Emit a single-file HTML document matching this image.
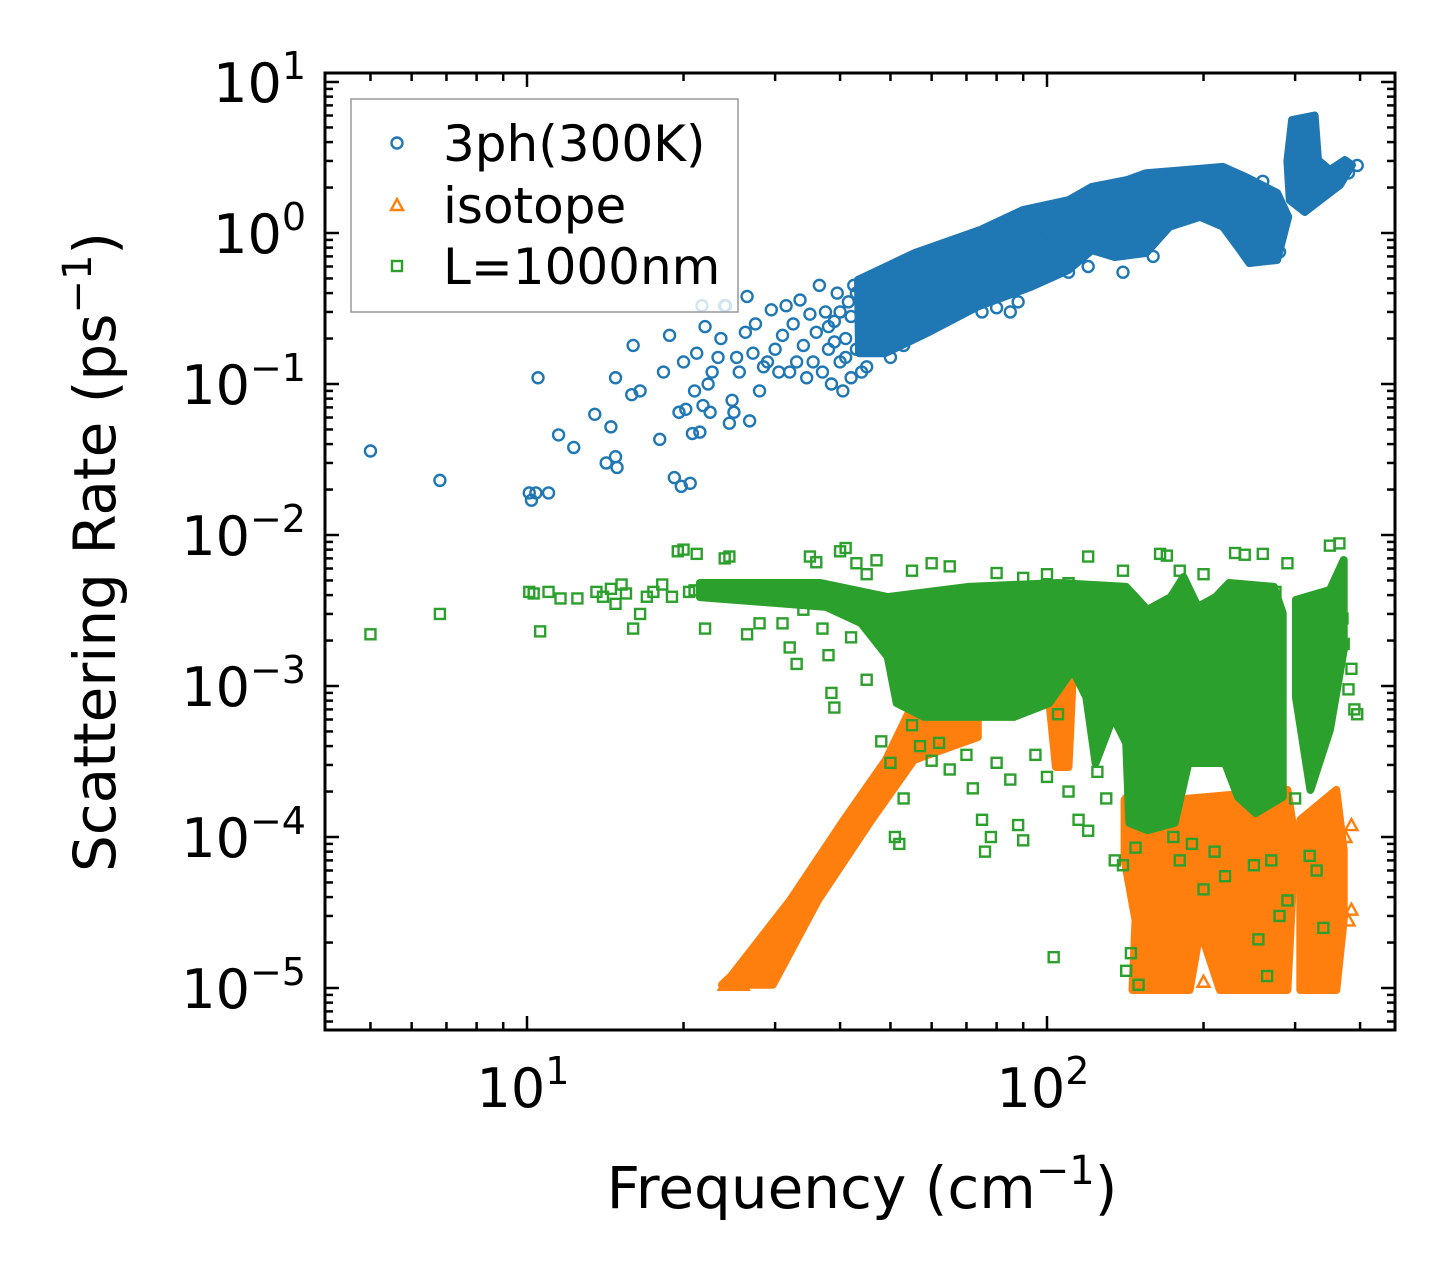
<!DOCTYPE html>
<html><head><meta charset="utf-8"><style>
body{margin:0;background:#fff}
svg{display:block;font-family:"DejaVu Sans","Liberation Sans",sans-serif}
</style></head><body>
<svg id="chart" width="1455" height="1280" viewBox="0 0 1455 1280" xmlns="http://www.w3.org/2000/svg">
<rect width="1455" height="1280" fill="#fff"/>
<g id="marks"></g>
<g id="axes"></g>
<g id="legend"></g>
</svg>
<script>
const xTicks = [10, 100];
const xTickExp = ["1", "2"];
const yTicks = [10, 1, 0.1, 0.01, 0.001, 0.0001, 0.00001];
const yTickExp = ["1", "0", "\u22121", "\u22122", "\u22123", "\u22124", "\u22125"];
const seriesNames = ["3ph(300K)", "isotope", "L=1000nm"];

const blueBandF = [43.3,55.7,74.6,89.9,110,122,142.5,155,184,218,241,277,291,277,245,233,218,197,172,155,135,122,110,93,73.3,58.8,48.8,43.5];
const blueBandR = [0.489,0.737,1.05,1.42,1.65,2.02,2.24,2.49,2.61,2.74,2.35,1.84,1.28,0.663,0.633,0.807,1.10,1.28,1.10,0.737,0.693,0.771,0.569,0.439,0.324,0.218,0.160,0.16];
const blueSpikeF = [296,327,332,350,374,386,366,335,313,293,290];
const blueSpikeR = [5.6,6.0,3.04,2.61,3.04,2.82,2.08,1.65,1.38,1.65,3.0];
const blueF = [5.0,6.8,10.1,10.2,10.4,10.5,11.0,11.5,12.3,13.5,14.2,14.5,14.8,14.8,14.9,15.9,16.0,16.5,18.0,18.3,18.8,19.2,19.6,19.8,20.0,20.2,20.6,20.8,21.0,21.2,21.5,21.8,22.0,22.3,22.5,22.7,23.3,23.6,24.0,24.5,24.8,25.0,25.3,25.6,26.3,26.5,26.8,27.2,27.5,28,28.5,29,29.5,30,30.5,31,31.5,32,32.5,33,33.5,34,34.5,35,35.5,36,36.5,37,37.5,38,38.5,39,39.5,40,40.5,41,41.5,42,42.5,43,44,45,46,47,48,50,52,53,55,57,60,63,68,72,75,80,85,88,92,95,100,110,120,130,140,160,175,200,210,260,270,280,395,380,21.7,24.1,41,42,43,44,45,40,39,38];
const blueR = [0.036,0.023,0.019,0.017,0.019,0.11,0.019,0.046,0.038,0.063,0.030,0.052,0.11,0.033,0.028,0.085,0.18,0.09,0.043,0.12,0.21,0.024,0.065,0.021,0.14,0.068,0.022,0.047,0.09,0.16,0.048,0.072,0.24,0.10,0.065,0.12,0.15,0.20,0.33,0.055,0.078,0.065,0.15,0.12,0.22,0.38,0.057,0.16,0.25,0.09,0.13,0.14,0.31,0.17,0.12,0.21,0.33,0.12,0.25,0.14,0.36,0.18,0.11,0.29,0.14,0.22,0.45,0.12,0.3,0.17,0.1,0.26,0.4,0.14,0.09,0.2,0.35,0.11,0.45,0.17,0.25,0.13,0.5,0.2,0.35,0.15,0.55,0.18,0.3,0.22,0.7,0.28,0.35,0.5,0.3,0.32,0.3,0.35,0.55,1.2,1.0,0.55,0.6,0.85,0.55,0.7,1.3,1.5,2.1,2.2,0.7,0.75,2.8,2.5,0.33,0.33,0.15,0.28,0.4,0.12,0.22,0.3,0.19,0.24];

const orangeBandF = [23.7,29.7,36.3,46.0,55.5,73.6,73.6,55.7,49.0,40.7,32.1,24.7];
const orangeBandR = [1.05e-5,1.05e-5,3.83e-5,1.30e-4,3.24e-4,4.59e-4,9.41e-4,8.07e-4,3.24e-4,1.30e-4,3.83e-5,1.2e-5];
const orangeMassF = [141,151,176,290,300,290,215,197,188,146,148,141];
const orangeMassR = [1.76e-4,2.38e-4,1.76e-4,2.05e-4,9.55e-5,9.7e-6,9.7e-6,2.42e-5,9.7e-6,9.7e-6,2.82e-5,7.05e-5];
const orangeColF = [307,360,372,372,360,307];
const orangeColR = [1.30e-4,2.05e-4,8.20e-5,2.82e-5,9.7e-6,9.7e-6];
const orangeStubF = [101,108,112,110,104];
const orangeStubR = [8.07e-4,1.28e-3,1.10e-3,2.91e-4,2.91e-4];
const orangeF = [24,25,26,27.5,28,30,380,385,375,385,55,60,65,150,200,250,330,350];
const orangeR = [1.05e-5,1.05e-5,1.05e-5,1.4e-5,1.5e-5,2.5e-5,2.8e-5,3.3e-5,1.0e-4,1.2e-4,7e-4,9e-4,6e-4,3e-4,1.1e-5,1.1e-5,1.05e-5,1.05e-5];

const greenBandF = [21.5,36.7,49.4,70.8,105,142,156,173,183,195,211,224,273,284,284,252,233,220,203,187,176,156,144,142,134,124,119,112,101,86.4,70.8,58.0,51.4,49.4,43.9,37.6,21.5];
const greenBandR = [0.00481,0.00481,0.00388,0.00453,0.00481,0.00453,0.00319,0.00388,0.00527,0.00334,0.00388,0.00481,0.00453,0.00304,0.000184,0.000144,0.000184,0.000309,0.000309,0.000309,0.000124,0.000111,0.000124,0.000420,0.000624,0.000309,0.000845,0.00128,0.000771,0.000624,0.000624,0.000624,0.000771,0.00156,0.00261,0.00334,0.00388];
const greenSpikeF = [301,350,372,372,350,321,301];
const greenSpikeR = [0.00371,0.00432,0.00683,0.00173,0.000512,0.000205,0.000845];
const greenF = [5.0,6.8,10.1,10.3,10.6,11,11.6,12.5,13.6,14,14.5,14.8,15.2,15.5,16,16.5,17,17.5,18.2,19,19.5,20,20.5,21,21.2,22,23,24,24.5,25,26,26.5,27.5,28,29,30,31,32,33,34,35,36,37,38,38.5,39,40,41,42,43,45,47,48,50,51,52,53,55,57,60,62,65,70,72,75,76,78,80,85,88,90,95,100,103,105,110,115,120,125,130,135,140,142,145,148,150,160,165,170,175,180,190,200,210,220,230,240,250,255,260,265,270,280,290,300,320,330,340,350,365,370,380,385,390,395,360,372,120,110,90,80,65,55,60,100,140,180,200,275,290,45];
const greenR = [0.0022,0.003,0.0042,0.0041,0.0023,0.0042,0.0038,0.0038,0.0042,0.0039,0.0044,0.0035,0.0047,0.0041,0.0024,0.0030,0.0039,0.0042,0.0047,0.0039,0.0078,0.008,0.0042,0.0043,0.0075,0.0024,0.0041,0.0070,0.0072,0.0045,0.0042,0.0022,0.0042,0.0026,0.0038,0.0045,0.0026,0.0018,0.0014,0.0032,0.0072,0.0066,0.0024,0.0016,0.0009,0.00072,0.0078,0.0082,0.0021,0.0065,0.0011,0.0068,0.00043,0.00031,0.0001,0.00009,0.00018,0.00055,0.0004,0.00032,0.00042,0.00028,0.00035,0.00021,0.00013,0.00008,0.0001,0.00031,0.00024,0.00012,0.000095,0.00035,0.00025,0.000016,0.00065,0.0002,0.00013,0.00011,0.00027,0.00018,0.00007,0.000065,0.000013,0.000017,0.000085,0.0000105,0.00012,0.0075,0.0073,0.0001,0.00007,0.00009,0.000045,0.00008,0.000055,0.0076,0.0074,0.000065,0.000021,0.0075,0.000012,0.00007,0.00003,0.000038,0.00018,0.000075,0.00006,0.000025,0.0085,0.0088,0.0028,0.00095,0.0013,0.0007,0.00065,0.0012,0.0019,0.0072,0.0048,0.0052,0.0056,0.0062,0.0058,0.0065,0.0055,0.0058,0.0058,0.0055,0.0042,0.0065,0.0055];

const L = 325, R = 1395, T = 73, B = 1030;
const PX_DEC_X = 520, PX_DEC_Y = 151;
const X10 = 527, Y1 = 233;
function sx(v){ return X10 + (Math.log10(v) - 1) * PX_DEC_X; }
function sy(v){ return Y1 - Math.log10(v) * PX_DEC_Y; }
const NS = "http://www.w3.org/2000/svg";
function mk(tag, attrs, parent){
  const e = document.createElementNS(NS, tag);
  for (const k in attrs) e.setAttribute(k, attrs[k]);
  parent.appendChild(e);
  return e;
}
function tspan(parent, txt, attrs){
  const s = document.createElementNS(NS, "tspan");
  for (const k in attrs) s.setAttribute(k, attrs[k]);
  s.textContent = txt;
  parent.appendChild(s);
  return s;
}
const BLUE = "#1f77b4", ORANGE = "#ff7f0e", GREEN = "#2ca02c";
const marks = document.getElementById("marks");
const axes = document.getElementById("axes");
const legend = document.getElementById("legend");

function band(fs, rs, color, name){
  let d = "";
  for (let i = 0; i < fs.length; i++) d += (i ? "L" : "M") + sx(fs[i]).toFixed(1) + " " + sy(rs[i]).toFixed(1);
  const p = mk("path", {d: d + "Z", fill: color, stroke: color, "stroke-width": 8, "stroke-linejoin": "round"}, marks);
  
  
}
function circles(fs, rs, color, name){
  for (let i = 0; i < fs.length; i++){
    const c = mk("circle", {cx: sx(fs[i]), cy: sy(rs[i]), r: 5.5, fill: "none", stroke: color, "stroke-width": 2.4}, marks);
    
    
  }
}
function squares(fs, rs, color, name){
  for (let i = 0; i < fs.length; i++){
    const s = mk("rect", {x: sx(fs[i]) - 5, y: sy(rs[i]) - 5, width: 10, height: 10, fill: "none", stroke: color, "stroke-width": 2.4}, marks);
    
    
  }
}
function tris(fs, rs, color, name){
  for (let i = 0; i < fs.length; i++){
    const x = sx(fs[i]), y = sy(rs[i]);
    const t = mk("polygon", {points: x + "," + (y-6) + " " + (x-6) + "," + (y+5) + " " + (x+6) + "," + (y+5), fill: "none", stroke: color, "stroke-width": 2.4}, marks);
    
    
  }
}

band(blueBandF, blueBandR, BLUE, "3ph-dense-band");
band(blueSpikeF, blueSpikeR, BLUE, "3ph-high-freq-cluster");
circles(blueF, blueR, BLUE, "3ph-point");
band(orangeBandF, orangeBandR, ORANGE, "isotope-diagonal-band");
band(orangeMassF, orangeMassR, ORANGE, "isotope-high-freq-mass");
band(orangeColF, orangeColR, ORANGE, "isotope-top-column");
band(orangeStubF, orangeStubR, ORANGE, "isotope-mid-cluster");
tris(orangeF, orangeR, ORANGE, "isotope-point");
band(greenBandF, greenBandR, GREEN, "boundary-dense-band");
band(greenSpikeF, greenSpikeR, GREEN, "boundary-high-freq-cluster");
squares(greenF, greenR, GREEN, "boundary-point");

const frame = mk("rect", {x: L, y: T, width: R - L, height: B - T, fill: "none", stroke: "#000", "stroke-width": 3}, axes);


function tick(x1, y1, x2, y2){
  const t = mk("line", {x1: x1, y1: y1, x2: x2, y2: y2, stroke: "#000", "stroke-width": 2.5}, axes);
  
  
}
for (let dec = 1; dec <= 100; dec *= 10){
  for (let m = 1; m <= 9; m++){
    const x = sx(dec * m);
    if (x < L || x > R) continue;
    const len = m === 1 ? 14 : 8;
    tick(x, B, x, B - len); tick(x, T, x, T + len);
  }
}
for (let e = -6; e <= 1; e++){
  for (let m = 1; m <= 9; m++){
    const y = sy(m * Math.pow(10, e));
    if (y < T || y > B) continue;
    const len = m === 1 ? 14 : 8;
    tick(L, y, L + len, y); tick(R, y, R - len, y);
  }
}
function powLabel(x, y, exp, anchor, name){
  const t = mk("text", {x: x, y: y, "font-size": 54, "text-anchor": anchor, fill: "#000"}, axes);
  
  
  tspan(t, "10", {});
  tspan(t, exp, {"font-size": 38, dy: -23});
}
xTicks.forEach(function(v, i){ powLabel(sx(v) - 4, 1107, xTickExp[i], "middle", "x-tick-label"); });
yTicks.forEach(function(v, i){ powLabel(306, sy(v) + 20, yTickExp[i], "end", "y-tick-label"); });

const xt = mk("text", {x: 862, y: 1208, "font-size": 58, "text-anchor": "middle"}, axes);


tspan(xt, "Frequency (cm", {});
tspan(xt, "\u22121", {"font-size": 40, dy: -24});
tspan(xt, ")", {dy: 24});
const yt = mk("text", {x: 0, y: 0, "font-size": 58, "text-anchor": "middle", transform: "translate(115,552) rotate(-90)"}, axes);


tspan(yt, "Scattering Rate (ps", {});
tspan(yt, "\u22121", {"font-size": 40, dy: -24});
tspan(yt, ")", {dy: 24});

const lb = mk("rect", {x: 351, y: 99, width: 387, height: 213, fill: "rgba(255,255,255,0.8)", stroke: "#999", "stroke-width": 1.5}, legend);


const ly = [143, 205, 266];
const lc = [BLUE, ORANGE, GREEN];
seriesNames.forEach(function(n, i){
  const y = ly[i], x = 397;
  let m;
  if (i === 0) m = mk("circle", {cx: x, cy: y, r: 5.5, fill: "none", stroke: lc[i], "stroke-width": 2.4}, legend);
  else if (i === 1) m = mk("polygon", {points: x + "," + (y-6) + " " + (x-6) + "," + (y+5) + " " + (x+6) + "," + (y+5), fill: "none", stroke: lc[i], "stroke-width": 2.4}, legend);
  else m = mk("rect", {x: x - 5, y: y - 5, width: 10, height: 10, fill: "none", stroke: lc[i], "stroke-width": 2.4}, legend);
  
  
  const t = mk("text", {x: 443, y: y + 18, "font-size": 50}, legend);
  t.textContent = n;
  
  
});
</script>
</body></html>
